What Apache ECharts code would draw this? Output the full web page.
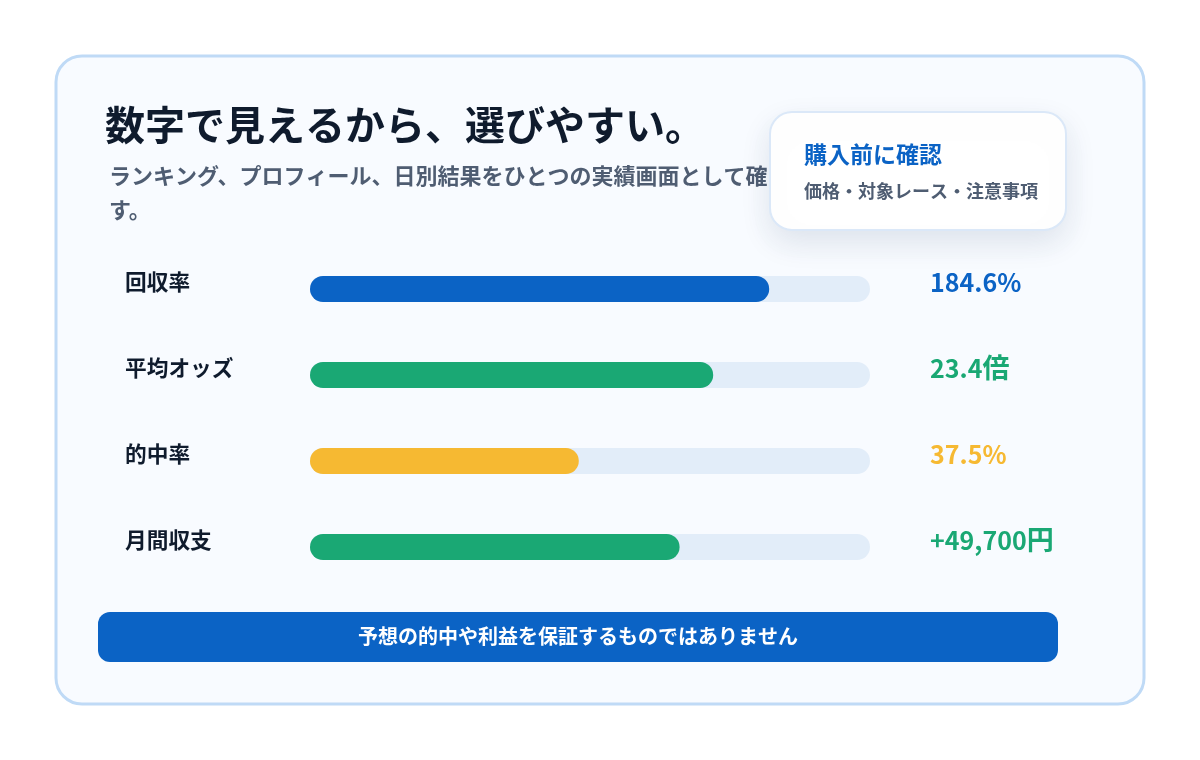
<!DOCTYPE html>
<html lang="ja">
<head>
<meta charset="utf-8">
<title>数字で見えるから、選びやすい。</title>
<style>
  html, body { margin: 0; padding: 0; background: #fff; }
  #main { width: 1200px; height: 760px; }
</style>
</head>
<body>
<div id="main"></div>
<script src="https://cdn.jsdelivr.net/npm/echarts@6/dist/echarts.min.js"></script>
<script>
const categories = ['回収率', '平均オッズ', '的中率', '月間収支'];
const barValues = [82, 72, 48, 66];
const valueNumbers = ['184.6%', '23.4', '37.5%', '+49,700'];
const valueUnits = ['', '倍', '', '円'];
const barColors = ['#0b63c5', '#1aa874', '#f6b932', '#1aa874'];

const FONT = '"Noto Sans CJK JP", "Noto Sans", sans-serif';

const chart = echarts.init(document.getElementById('main'), null, { renderer: 'canvas' });

const text = (x, y, str, size, weight, fill, align) => ({
  type: 'text',
  z: 10,
  style: {
    x, y, text: str, fill,
    font: `${weight} ${size}px ${FONT}`,
    textAlign: align || 'left',
    textVerticalAlign: 'middle'
  }
});

chart.setOption({
  animation: false,
  textStyle: { fontFamily: FONT },
  grid: { left: 310, width: 560, top: 246, height: 344 },
  xAxis: { type: 'value', min: 0, max: 100, show: false },
  yAxis: [
    {
      type: 'category',
      inverse: true,
      data: categories,
      axisLine: { show: false },
      axisTick: { show: false },
      axisLabel: {
        align: 'left',
        margin: 185,
        fontSize: 21.7,
        fontWeight: 'bold',
        color: '#0f1b2d',
        verticalAlign: 'bottom',
        lineHeight: 14
      }
    },
    {
      type: 'category',
      inverse: true,
      position: 'right',
      data: valueNumbers.map((n, i) => n + valueUnits[i]),
      axisLine: { show: false },
      axisTick: { show: false },
      axisLabel: {
        align: 'left',
        margin: 60,
        fontSize: 25,
        fontWeight: 'bold',
        verticalAlign: 'bottom',
        lineHeight: 14,
        color: (v, i) => barColors[i],
        formatter: (v, i) => `{num|${valueNumbers[i]}}` + (valueUnits[i] ? `{unit|${valueUnits[i]}}` : ''),
        rich: {
          num: { fontSize: 25, fontWeight: 'bold', lineHeight: 14, verticalAlign: 'middle' },
          unit: { fontSize: 27, fontWeight: 'bold', lineHeight: 14, verticalAlign: 'middle' }
        }
      }
    }
  ],
  series: [{
    type: 'bar',
    barWidth: 26,
    z: 3,
    data: barValues.map((v, i) => ({ value: v, itemStyle: { color: barColors[i] } })),
    itemStyle: { borderRadius: 13 },
    showBackground: true,
    backgroundStyle: { color: '#e2edf9', borderRadius: 13 }
  }],
  graphic: [
    // card
    {
      type: 'rect', z: -10,
      shape: { x: 56, y: 56, width: 1088, height: 648, r: 26 },
      style: { fill: '#f8fbff', stroke: '#bfdaf6', lineWidth: 3 }
    },
    text(105, 125, '数字で見えるから、選びやすい。', 40, 'bold', '#0f1b2d'),
    text(109, 176, 'ランキング、プロフィール、日別結果をひとつの実績画面として確', 22, 'bold', '#4f5d72'),
    text(109, 210, 'す。', 22, 'bold', '#4f5d72'),
    // popup
    {
      type: 'rect', z: 11,
      shape: { x: 770, y: 112, width: 296, height: 118, r: 22 },
      style: {
        fill: '#ffffff', stroke: '#dbe8f8', lineWidth: 2,
        shadowBlur: 30, shadowOffsetY: 12, shadowColor: 'rgba(30,60,100,0.12)'
      }
    },
    Object.assign(text(804, 154, '購入前に確認', 23, 'bold', '#0b63c5'), { z: 12 }),
    Object.assign(text(804, 191, '価格・対象レース・注意事項', 18, 'bold', '#4f5d72'), { z: 12 }),
    // footer band
    {
      type: 'rect', z: 5,
      shape: { x: 98, y: 612, width: 960, height: 50, r: 12 },
      style: { fill: '#0b63c5' }
    },
    text(578, 636, '予想の的中や利益を保証するものではありません', 20, 'bold', '#ffffff', 'center')
  ]
});
</script>
</body>
</html>
